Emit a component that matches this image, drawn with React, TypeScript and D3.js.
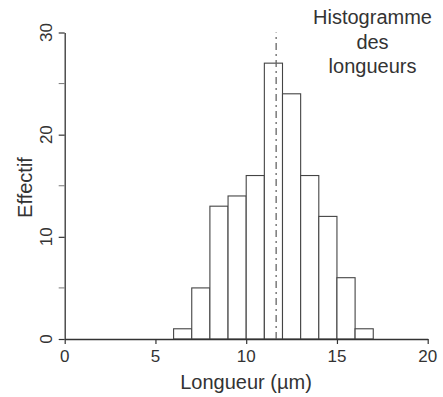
import React, { useEffect, useRef } from 'react';
import * as d3 from 'd3';

// histogram bins (µm) and counts
const binStarts = [6, 7, 8, 9, 10, 11, 12, 13, 14, 15, 16];
const counts = [1, 5, 13, 14, 16, 27, 24, 16, 12, 6, 1];
const meanLength = 11.65;
const xTicks = [0, 5, 10, 15, 20];
const yTicks = [0, 10, 20, 30];
const yMinorTicks = [5, 15, 25];
const titleLines = ['Histogramme', 'des', 'longueurs'];

const App: React.FC = () => {
  const ref = useRef<SVGSVGElement | null>(null);
  const width = 443;
  const height = 397;

  useEffect(() => {
    if (!ref.current) return;
    const svg = d3.select(ref.current);
    svg.selectAll('*').remove();

    const font = 'Liberation Sans, Arial, sans-serif';
    const ink = '#333';

    const x = d3.scaleLinear().domain([0, 20]).range([64.7, 427.7]);
    const y = d3.scaleLinear().domain([0, 30]).range([339, 32.5]);

    svg.append('rect').attr('width', width).attr('height', height).attr('fill', '#fff');

    // bars
    svg
      .append('g')
      .selectAll('rect')
      .data(binStarts)
      .join('rect')
      .attr('x', (d) => x(d))
      .attr('y', (d, i) => y(counts[i]))
      .attr('width', (d) => x(d + 1) - x(d))
      .attr('height', (d, i) => y(0) - y(counts[i]))
      .attr('fill', '#fff')
      .attr('stroke', '#444')
      .attr('stroke-width', 1.1);

    // mean line
    svg
      .append('line')
      .attr('x1', x(meanLength))
      .attr('x2', x(meanLength))
      .attr('y1', y(0))
      .attr('y2', y(30))
      .attr('stroke', '#666')
      .attr('stroke-width', 1.3)
      .attr('stroke-dasharray', '7,4,2,4');

    // x axis
    const xAxis = svg
      .append('g')
      .attr('transform', `translate(0,${y(0)})`)
      .call(d3.axisBottom(x).tickValues(xTicks).tickSize(5).tickSizeOuter(0).tickFormat(() => ''));
    xAxis.select('.domain').attr('stroke', ink).attr('stroke-width', 1.3);
    xAxis.selectAll('line').attr('stroke', ink).attr('stroke-width', 1.2);

    svg
      .append('g')
      .selectAll('text')
      .data(xTicks)
      .join('text')
      .attr('x', (d) => x(d))
      .attr('y', 362)
      .attr('text-anchor', 'middle')
      .attr('font-family', font)
      .attr('font-size', 17)
      .attr('fill', ink)
      .text((d) => d);

    // y axis
    const yAxis = svg
      .append('g')
      .attr('transform', `translate(${x(0)},0)`)
      .call(d3.axisLeft(y).tickValues(yTicks).tickSize(6).tickSizeOuter(0).tickFormat(() => ''));
    yAxis.select('.domain').attr('stroke', ink).attr('stroke-width', 1.3);
    yAxis.selectAll('line').attr('stroke', ink).attr('stroke-width', 1.2);

    svg
      .append('g')
      .selectAll('line')
      .data(yMinorTicks)
      .join('line')
      .attr('x1', x(0) - 6)
      .attr('x2', x(0))
      .attr('y1', (d) => y(d))
      .attr('y2', (d) => y(d))
      .attr('stroke', '#777')
      .attr('stroke-width', 1);

    svg
      .append('g')
      .selectAll('text')
      .data(yTicks)
      .join('text')
      .attr('transform', (d) => `translate(52,${y(d)}) rotate(-90)`)
      .attr('text-anchor', 'middle')
      .attr('font-family', font)
      .attr('font-size', 17)
      .attr('fill', ink)
      .text((d) => d);

    // axis titles
    svg
      .append('text')
      .attr('x', 246)
      .attr('y', 389)
      .attr('text-anchor', 'middle')
      .attr('font-family', font)
      .attr('font-size', 20)
      .attr('fill', ink)
      .text('Longueur (µm)');

    svg
      .append('text')
      .attr('transform', 'translate(32,187.5) rotate(-90)')
      .attr('text-anchor', 'middle')
      .attr('font-family', font)
      .attr('font-size', 20)
      .attr('fill', ink)
      .text('Effectif');

    // title
    svg
      .append('g')
      .selectAll('text')
      .data(titleLines)
      .join('text')
      .attr('x', 372.5)
      .attr('y', (d, i) => 24 + i * 24.5)
      .attr('text-anchor', 'middle')
      .attr('font-family', font)
      .attr('font-size', 20)
      .attr('fill', ink)
      .text((d) => d);
  }, []);

  return (
    <svg
      ref={ref}
      width={width}
      height={height}
      style={{ position: 'fixed', top: 0, left: 0, display: 'block' }}
    />
  );
};

export default App;
